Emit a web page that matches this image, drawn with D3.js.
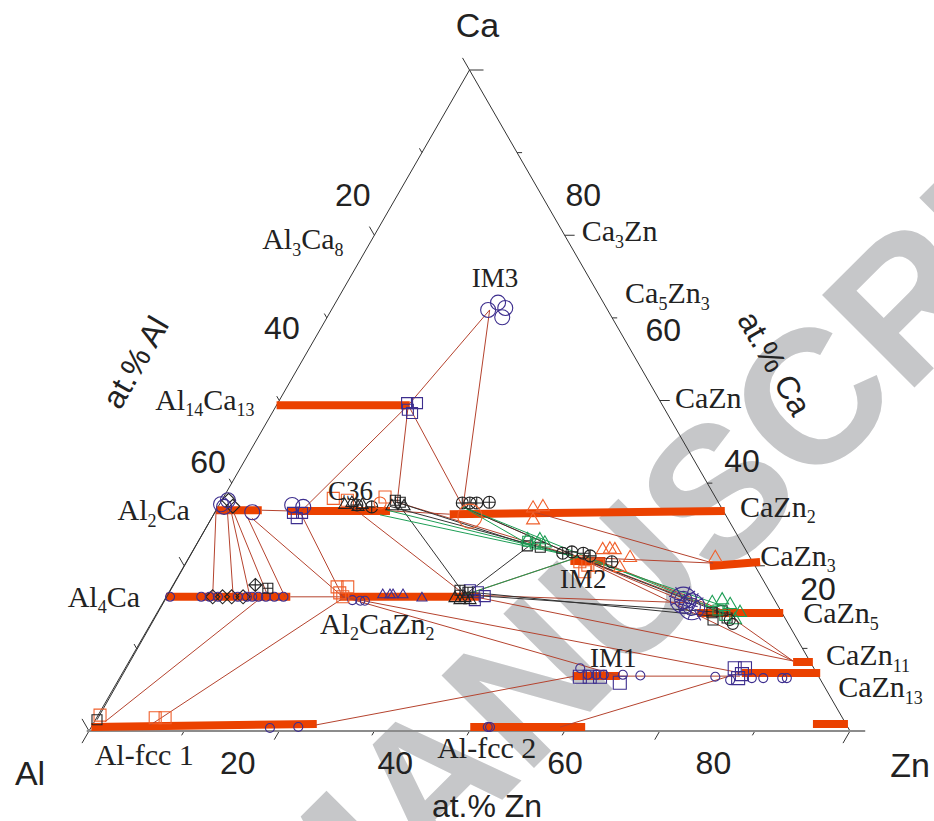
<!DOCTYPE html>
<html>
<head>
<meta charset="utf-8">
<script src="https://cdn.jsdelivr.net/npm/d3@7"></script>
<style>
  body { margin: 0; background: #fff; }
  svg { display: block; }
</style>
</head>
<body>
<svg id="chart" width="934" height="821"></svg>
<script>
// ---- data: compositions as [at.% Zn, at.% Ca] (Al = rest) ----
const tickSteps = [0, 12.5, 25, 37.5, 50, 62.5, 75, 87.5, 100];

// tick labels: [text, Zn, Ca] where the label sits
const leftTickLabels = [["20", -5.9, 81.1], ["40", -5.2, 61.1], ["60", -4.7, 40.7]];
const rightTickLabels = [["80", 24.4, 81.1], ["60", 45.1, 60.7], ["40", 65.3, 41.0], ["20", 85.0, 21.6]];
const bottomTickLabels = [["20", 21.9, -4.7], ["40", 42.6, -4.7], ["60", 64.9, -4.7], ["80", 84.4, -4.7]];

// phase names: [label, Zn, Ca] (start of text)
const phaseLabels = [
  ["Al_{3}Ca_{8}", -13.7, 72.9], ["Al_{14}Ca_{13}", -15.6, 48.6], ["Al_{2}Ca", -12.2, 31.9],
  ["Al_{4}Ca", -12.2, 18.8], ["Al-fcc 1", 3.3, -5.1], ["Al-fcc 2", 47.8, -4.1],
  ["Al_{2}CaZn_{2}", 23.0, 14.7], ["Ca_{3}Zn", 27.7, 74.1], ["Ca_{5}Zn_{3}", 38.1, 64.7],
  ["CaZn", 52.55, 48.9], ["CaZn_{2}", 69.35, 32.4], ["CaZn_{3}", 75.7, 25.0],
  ["CaZn_{5}", 85.7, 16.3], ["CaZn_{11}", 91.85, 10.0], ["CaZn_{13}", 95.9, 5.1]
];
const phaseLabelsSmall = [["C36", 13.95, 34.9], ["IM3", 16.7, 67.2], ["IM2", 51.1, 21.6], ["IM1", 61.0, 9.7]];

// single-phase ranges: [Zn0, Ca0, Zn1, Ca1]
const phaseBars = [
  [0, 0.6, 29.4, 1.06], [49.8, 0.6, 64.9, 0.6], [94.6, 1.06, 99.2, 1.06],
  [0, 20.3, 16.3, 20.3], [22.8, 20.3, 41.2, 20.3],
  [0, 33.4, 6.0, 33.4], [9.4, 33.3, 22.9, 33.3], [31.0, 32.8, 66.9, 33.3],
  [0, 49.3, 17.5, 49.3], [69.1, 24.96, 75.4, 25.57], [71.0, 17.85, 82.3, 17.85],
  [87.3, 10.44, 89.9, 10.44], [81.4, 8.77, 91.7, 8.77], [59.4, 8.32, 65.6, 8.32],
  [50.4, 25.7, 55.0, 25.7]
];

// tie lines / triangles: [Zn0, Ca0, Zn1, Ca1]
const redTies = [
  [1.4, 1.4, 12.6, 20.3], [7.6, 0.9, 23.5, 20.3], [29.3, 0.9, 59.7, 8.3], [61.6, 0.6, 81.2, 8.8],
  [0.0, 33.4, 6.1, 20.3], [1.2, 33.9, 8.8, 20.3], [1.6, 33.9, 11.0, 20.3], [2.2, 33.4, 13.4, 20.3],
  [4.6, 32.4, 15.6, 20.3], [5.3, 32.2, 23.2, 20.3], [11.2, 33.1, 23.2, 20.3], [11.2, 33.1, 17.3, 49.3],
  [17.3, 49.3, 20.8, 63.7], [20.8, 63.7, 32.2, 33.9], [17.3, 49.3, 23.2, 34.6], [17.3, 49.3, 32.2, 33.9],
  [17.6, 33.9, 39.1, 20.6], [23.2, 34.6, 51.1, 26.3], [32.2, 33.9, 51.1, 26.3], [39.1, 20.6, 51.1, 26.3],
  [39.1, 20.6, 69.0, 19.4], [39.1, 20.6, 87.2, 10.6], [23.2, 20.3, 65.6, 8.3], [23.2, 20.3, 81.2, 8.8],
  [51.1, 26.3, 87.2, 10.6], [51.1, 26.3, 74.6, 17.9], [51.8, 26.6, 73.8, 18.4], [51.1, 26.3, 69.0, 19.4],
  [51.1, 26.3, 69.3, 25.4], [42.0, 33.1, 69.3, 25.4], [74.6, 17.9, 87.2, 10.6], [65.6, 8.3, 81.4, 8.3],
  [6.0, 33.4, 9.4, 33.3], [16.3, 20.3, 22.8, 20.3], [22.9, 33.3, 31.0, 32.8]
];
const blackTies = [
  [0.0, 33.4, 0.2, 1.7], [23.2, 34.6, 39.1, 20.6], [23.2, 34.6, 43.9, 28.1], [22.5, 34.0, 51.1, 26.3],
  [39.1, 20.6, 43.9, 28.1], [39.1, 20.6, 74.6, 17.9], [39.6, 21.0, 74.0, 17.3], [32.2, 33.9, 51.1, 26.3],
  [51.1, 26.3, 74.9, 17.6]
];
const greenTies = [
  [21.9, 32.7, 51.1, 26.3], [22.5, 33.4, 43.9, 28.1], [32.2, 33.9, 43.9, 28.1], [32.2, 33.9, 74.6, 17.9],
  [39.1, 20.6, 51.1, 26.3], [43.9, 28.1, 51.1, 26.3], [52.4, 26.0, 75.4, 18.4]
];

// measured alloys: [Zn, Ca]
const blueCirclesLarge = [
  [20.6, 63.7], [21.35, 64.8], [22.7, 64.0], [23.0, 62.6],
  [0.2, 34.3], [0.8, 33.9], [0.8, 34.9], [4.9, 33.1], [9.6, 34.2], [11.2, 33.9]
];
const blueCirclesSmall = [
  [0.5, 20.3], [4.6, 20.3], [5.7, 20.3], [6.8, 20.3], [9.4, 20.3], [10.6, 20.3], [11.3, 20.3],
  [12.1, 20.3], [13.1, 20.3], [14.2, 20.3], [15.4, 20.3],
  [24.7, 19.8], [25.8, 19.7], [26.4, 19.7],
  [59.8, 9.5], [61.3, 8.5], [62.4, 8.5], [63.4, 8.5], [65.9, 8.5], [68.25, 8.4],
  [78.2, 8.2], [80.4, 7.7], [83.1, 8.0], [84.6, 8.0], [87.1, 8.0], [87.7, 8.0],
  [23.55, 0.45], [27.2, 0.6], [52.1, 0.6], [52.4, 0.6]
];
const blueSquares = [
  [17.0, 49.6], [18.3, 49.6], [17.6, 48.6], [18.4, 48.1],
  [10.3, 33.0], [11.5, 33.0], [11.2, 32.2],
  [39.4, 21.3], [40.6, 21.0], [41.8, 20.4], [40.8, 19.8]
];
const blueSquaresLarge = [
  [60.4, 8.2], [61.7, 8.2], [63.05, 8.2], [66.1, 7.3],
  [80.1, 9.5], [81.45, 9.5], [81.5, 8.6], [81.3, 8.0]
];
const orangeSquares = [
  [0.25, 2.4], [7.7, 2.0], [9.0, 2.0],
  [14.5, 35.2], [16.5, 34.9], [21.2, 35.4],
  [21.7, 21.8], [23.1, 21.8], [22.5, 20.9], [23.2, 20.3],
  [51.7, 25.6], [53.0, 25.1], [54.3, 25.1], [53.1, 24.1]
];
const blackSquares = [[0.2, 1.7], [43.6, 28.0], [45.4, 27.8], [72.9, 17.9], [74.1, 18.2], [75.3, 17.1], [73.6, 16.8]];
const greenSquares = [[43.3, 28.7], [44.5, 28.3], [73.5, 18.3], [74.8, 17.5]];
const blueTriangles = [[28.3, 20.6], [29.25, 20.6], [29.65, 20.6], [30.96, 20.6], [33.7, 20.1]];
const orangeTriangles = [
  [41.5, 33.7], [42.7, 33.9], [42.4, 31.9],
  [53.8, 27.4], [54.7, 27.5], [55.4, 27.4], [58.0, 26.2], [57.4, 24.7], [69.2, 26.2]
];
const greenTriangles = [
  [43.2, 28.9], [44.8, 28.9], [45.7, 28.4],
  [72.2, 19.4], [73.3, 19.8], [74.7, 19.1], [76.6, 17.9], [76.5, 16.8]
];
const blackTriangles = [
  [16.5, 34.2], [17.3, 34.5], [18.4, 33.9], [18.8, 34.2], [22.8, 34.0], [24.4, 34.0],
  [38.04, 20.1], [38.85, 19.8], [39.36, 20.1], [40.17, 19.8]
];
const blackDiamonds = [[0.9, 34.9], [1.9, 34.0], [6.1, 20.3], [7.4, 20.3], [8.6, 20.3], [10.1, 20.3]];
const blackCrossDiamonds = [[10.8, 22.1]];
const blackCrossCircles = [
  [18.1, 34.2], [20.2, 33.9],
  [31.8, 34.5], [32.8, 34.5], [33.7, 34.5], [35.3, 34.6],
  [48.8, 26.9], [49.9, 27.1], [51.5, 26.9], [52.6, 26.5], [55.9, 25.6]
];
const blackCrossSquares = [[22.8, 34.9], [23.6, 34.6], [38.1, 21.3], [39.3, 21.0], [12.7, 21.6]];
const orangeCirclesSmall = [[21.0, 34.5]];
const orangeCirclesLarge = [[33.8, 32.5]];
const blueStarCircles = [[68.2, 19.8], [69.8, 18.8]];
const blackCircles = [[75.8, 16.8], [76.5, 16.2]];

// ---- drawing ----
const svg = d3.select("#chart");
const RED = "#b5432e", BAR = "#eb4100", BLUE = "#3d2e8e", ORANGE = "#f0602c", GREEN = "#1d9e55", BLACK = "#222";
const SANS = "'Liberation Sans', Arial, sans-serif";
const SERIF = "'Liberation Serif', 'Times New Roman', serif";

// ternary -> screen through two linear scales
const xs = d3.scaleLinear().domain([0, 100]).range([89, 850]);
const ys = d3.scaleLinear().domain([0, 100]).range([731, 70]);
const px = (zn, ca) => xs(zn + ca / 2);
const py = ca => ys(ca);

// watermark
svg.append("text")
  .attr("transform", "translate(316,986) rotate(-45)")
  .attr("font-family", SANS)
  .attr("font-weight", "bold")
  .attr("font-size", 190)
  .attr("fill", "#c6c7c9")
  .text("MANUSCRIPT");

// triangle edges
const edges = svg.append("g").attr("stroke", "#333").attr("stroke-width", 1).attr("fill", "none");
edges.append("line")
  .attr("x1", px(0, 0)).attr("y1", py(0)).attr("x2", px(0, 100)).attr("y2", py(100));
edges.append("line")
  .attr("x1", px(100, 0)).attr("y1", py(0)).attr("x2", px(0, 100)).attr("y2", py(100));
svg.append("line")
  .attr("x1", xs(-0.3)).attr("x2", xs(102)).attr("y1", py(0)).attr("y2", py(0))
  .attr("stroke", "#8c8c8c").attr("stroke-width", 2);

// ticks
const tickLen = v => (v === 0 || v === 100) ? 14 : (v === 25 || v === 75 ? 10 : 5);
const c60 = Math.sqrt(3) / 2;
tickSteps.forEach(v => {
  const L = tickLen(v);
  // bottom edge (Zn), tick parallel to Al-Ca edge
  edges.append("line")
    .attr("x1", px(v, 0)).attr("y1", py(0))
    .attr("x2", px(v, 0) - 0.5 * L).attr("y2", py(0) + c60 * L);
  // left edge (Al), tick parallel to Zn-Ca edge
  edges.append("line")
    .attr("x1", px(0, 100 - v)).attr("y1", py(100 - v))
    .attr("x2", px(0, 100 - v) - 0.5 * L).attr("y2", py(100 - v) - c60 * L);
  // right edge (Ca), horizontal tick
  edges.append("line")
    .attr("x1", px(100 - v, v)).attr("y1", py(v))
    .attr("x2", px(100 - v, v) + (v === 50 ? 10 : L)).attr("y2", py(v));
});

// single-phase bars
svg.append("g").selectAll("line").data(phaseBars).join("line")
  .attr("x1", d => px(d[0], d[1])).attr("y1", d => py(d[1]))
  .attr("x2", d => px(d[2], d[3])).attr("y2", d => py(d[3]))
  .attr("stroke", BAR).attr("stroke-width", 8);

// tie lines
function drawTies(data, color) {
  svg.append("g").selectAll("line").data(data).join("line")
    .attr("x1", d => px(d[0], d[1])).attr("y1", d => py(d[1]))
    .attr("x2", d => px(d[2], d[3])).attr("y2", d => py(d[3]))
    .attr("stroke", color).attr("stroke-width", 1);
}
drawTies(redTies, RED);
drawTies(blackTies, "#333");
drawTies(greenTies, GREEN);

// symbols
function shapePath(shape, s) {
  const r = s / 2;
  const circle = d3.symbol(d3.symbolCircle, Math.PI * r * r)();
  const square = `M${-r},${-r}H${r}V${r}H${-r}Z`;
  const tri = `M0,${-s / Math.sqrt(3)}L${r},${s / (2 * Math.sqrt(3))}L${-r},${s / (2 * Math.sqrt(3))}Z`;
  const dia = `M0,${-r}L${r},0L0,${r}L${-r},0Z`;
  const cross = `M${-r},0H${r}M0,${-r}V${r}`;
  const star = `M${-r * 1.1},${-r * 0.3}L${r * 1.1},${r * 0.5}M${-r * 0.6},${-r}L${r * 0.7},${r * 1.05}M${-r},${r * 0.4}L${r * 0.9},${-r * 0.7}M${-r * 0.3},${r}L${r * 0.5},${-r * 1.05}`;
  return {
    circle, square, triangle: tri, diamond: dia,
    crossCircle: circle + cross, crossSquare: square + cross, crossDiamond: dia + cross,
    starCircle: circle + d3.symbol(d3.symbolCircle, Math.PI * r * r * 0.45)() + star
  }[shape];
}
function drawMarks(data, shape, color, size) {
  svg.append("g").selectAll("path").data(data).join("path")
    .attr("transform", d => `translate(${px(d[0], d[1])},${py(d[1])})`)
    .attr("d", shapePath(shape, size))
    .attr("fill", "none").attr("stroke", color).attr("stroke-width", 1.1);
}
drawMarks(blackDiamonds, "diamond", BLACK, 14);
drawMarks(blackCrossDiamonds, "crossDiamond", BLACK, 13);
drawMarks(blueCirclesLarge, "circle", BLUE, 15);
drawMarks(blueCirclesSmall, "circle", BLUE, 9);
drawMarks(blueSquares, "square", BLUE, 11);
drawMarks(blueSquaresLarge, "square", BLUE, 13);
drawMarks(orangeSquares, "square", ORANGE, 12);
drawMarks(blackSquares, "square", BLACK, 10);
drawMarks(greenSquares, "square", GREEN, 10);
drawMarks(blueTriangles, "triangle", BLUE, 10);
drawMarks(orangeTriangles, "triangle", ORANGE, 13);
drawMarks(greenTriangles, "triangle", GREEN, 13);
drawMarks(blackTriangles, "triangle", BLACK, 12);
drawMarks(blackCrossCircles, "crossCircle", BLACK, 12);
drawMarks(blackCrossSquares, "crossSquare", BLACK, 10);
drawMarks(orangeCirclesSmall, "circle", ORANGE, 12);
drawMarks(orangeCirclesLarge, "circle", ORANGE, 24);
drawMarks(blueStarCircles, "starCircle", BLUE, 26);
drawMarks(blackCircles, "circle", BLACK, 11);

// labels with subscripts: "Al_{14}Ca_{13}"
function richText(sel, label, size) {
  const parts = label.split(/_\{([^}]*)\}/);
  let down = false;
  parts.forEach((p, i) => {
    if (!p) return;
    const t = sel.append("tspan").text(p);
    if (i % 2 === 1) {
      t.attr("font-size", size * 0.6);
      if (!down) { t.attr("dy", size * 0.22); down = true; }
    } else if (down) {
      t.attr("dy", -size * 0.22); down = false;
    }
  });
}
phaseLabels.forEach(([label, zn, ca]) => {
  const t = svg.append("text")
    .attr("x", px(zn, ca)).attr("y", py(ca))
    .attr("font-family", SERIF).attr("font-size", 30).attr("fill", "#222");
  richText(t, label, 30);
});
phaseLabelsSmall.forEach(([label, zn, ca]) => {
  svg.append("text")
    .attr("x", px(zn, ca)).attr("y", py(ca))
    .attr("font-family", SERIF).attr("font-size", 27).attr("fill", "#222")
    .text(label);
});

// tick labels
[...leftTickLabels, ...rightTickLabels, ...bottomTickLabels].forEach(([label, zn, ca]) => {
  svg.append("text")
    .attr("x", px(zn, ca)).attr("y", py(ca)).attr("dy", "0.36em")
    .attr("text-anchor", "middle")
    .attr("font-family", SANS).attr("font-size", 32).attr("fill", "#222")
    .text(label);
});

// corner names and axis titles
const corners = [["Ca", px(0, 100) + 8, py(100) - 45], ["Al", px(0, 0) - 59, py(0) + 42], ["Zn", px(100, 0) + 60, py(0) + 34]];
corners.forEach(([name, x, y]) => {
  svg.append("text").attr("x", x).attr("y", y).attr("dy", "0.36em")
    .attr("text-anchor", "middle")
    .attr("font-family", SANS).attr("font-size", 34).attr("fill", "#222")
    .text(name);
});
const titles = [["at.% Al", 135, 362, -60], ["at.% Ca", 775, 363, 60], ["at.% Zn", 487, 805, 0]];
titles.forEach(([name, x, y, rot]) => {
  svg.append("text")
    .attr("transform", `translate(${x},${y}) rotate(${rot})`)
    .attr("dy", "0.36em").attr("text-anchor", "middle")
    .attr("font-family", SANS).attr("font-size", 32).attr("fill", "#222")
    .text(name);
});
</script>
</body>
</html>
